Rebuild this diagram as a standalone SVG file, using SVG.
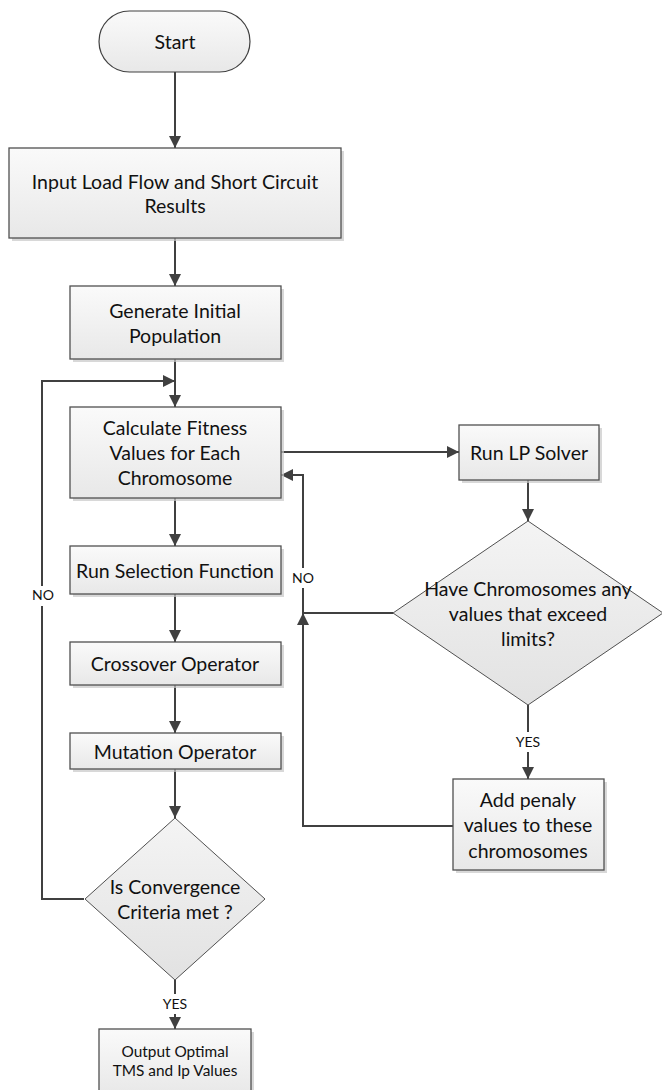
<svg xmlns="http://www.w3.org/2000/svg" width="662" height="1090" viewBox="0 0 662 1090">
<defs>
<linearGradient id="gbox" x1="0" y1="0" x2="0" y2="1">
<stop offset="0" stop-color="#fafafa"/>
<stop offset="1" stop-color="#e8e8e8"/>
</linearGradient>
<linearGradient id="gdia" x1="0" y1="0" x2="0" y2="1">
<stop offset="0" stop-color="#f4f4f4"/>
<stop offset="1" stop-color="#e2e2e2"/>
</linearGradient>
<marker id="arr" markerUnits="userSpaceOnUse" markerWidth="12" markerHeight="12" refX="12" refY="6" orient="auto">
<path d="M0,0 L12,6 L0,12 z" fill="#404040"/>
</marker>
<style>
.box{fill:url(#gbox);stroke:#505050;stroke-width:1.3}
.shadow{fill:#c8c8c8;opacity:0.7}
.dia{fill:url(#gdia);stroke:#505050;stroke-width:1}
.term{fill:url(#gbox);stroke:#404040;stroke-width:1.2}
.ln{fill:none;stroke:#404040;stroke-width:2}
.t{font-family:Lato,"Open Sans",sans-serif;font-size:19.5px;fill:#111111;text-anchor:middle}
.ts{font-family:Lato,"Open Sans",sans-serif;font-size:15.4px;fill:#111111;text-anchor:middle}
.lbl{font-family:Lato,"Open Sans",sans-serif;font-size:14px;fill:#111111;text-anchor:middle}
.bg{fill:#ffffff}
</style>
</defs>
<rect width="662" height="1090" fill="#ffffff"/>

<g id="connectors">
<line class="ln" x1="175" y1="72" x2="175" y2="148" marker-end="url(#arr)"/>
<line class="ln" x1="175" y1="238" x2="175" y2="286" marker-end="url(#arr)"/>
<line class="ln" x1="175" y1="359" x2="175" y2="407" marker-end="url(#arr)"/>
<line class="ln" x1="281" y1="452" x2="459" y2="452" marker-end="url(#arr)"/>
<line class="ln" x1="528" y1="480" x2="528" y2="521" marker-end="url(#arr)"/>
<line class="ln" x1="175" y1="498" x2="175" y2="546" marker-end="url(#arr)"/>
<line class="ln" x1="175" y1="594" x2="175" y2="642" marker-end="url(#arr)"/>
<line class="ln" x1="175" y1="685" x2="175" y2="733" marker-end="url(#arr)"/>
<line class="ln" x1="175" y1="769" x2="175" y2="818" marker-end="url(#arr)"/>
<polyline class="ln" points="84,899 42,899 42,381 175,381" marker-end="url(#arr)"/>
<polyline class="ln" points="393,613 303,613 303,475 281,475" marker-end="url(#arr)"/>
<polyline class="ln" points="453,826 303,826 303,613" marker-end="url(#arr)"/>
<line class="ln" x1="528" y1="705" x2="528" y2="779" marker-end="url(#arr)"/>
<line class="ln" x1="175" y1="980" x2="175" y2="1029" marker-end="url(#arr)"/>
<rect class="bg" x="30" y="586" width="24" height="20"/>
<text class="lbl" x="43" y="600">NO</text>
<rect class="bg" x="291" y="568" width="24" height="20"/>
<text class="lbl" x="303" y="583">NO</text>
<rect class="bg" x="513" y="732" width="30" height="20"/>
<text class="lbl" x="528" y="747">YES</text>
<rect class="bg" x="160" y="994" width="30" height="20"/>
<text class="lbl" x="175" y="1009">YES</text>
</g>

<g id="start">
<rect class="term" x="99" y="11" width="151" height="61" rx="30.5" ry="30.5"/>
<text class="t" x="175" y="48.5">Start</text>
</g>

<g id="input">
<rect class="shadow" x="12" y="151" width="332" height="90"/>
<rect class="box" x="9" y="148" width="332" height="90"/>
<text class="t" x="175" y="189">Input Load Flow and Short Circuit</text>
<text class="t" x="175" y="213">Results</text>
</g>

<g id="generate">
<rect class="shadow" x="73" y="289" width="211" height="73"/>
<rect class="box" x="70" y="286" width="211" height="73"/>
<text class="t" x="175" y="317.5">Generate Initial</text>
<text class="t" x="175" y="343">Population</text>
</g>

<g id="calculate">
<rect class="shadow" x="73" y="410" width="211" height="91"/>
<rect class="box" x="70" y="407" width="211" height="91"/>
<text class="t" x="175" y="435">Calculate Fitness</text>
<text class="t" x="175" y="459.5">Values for Each</text>
<text class="t" x="175" y="485">Chromosome</text>
</g>

<g id="runlp">
<rect class="shadow" x="462" y="428" width="140" height="55"/>
<rect class="box" x="459" y="425" width="140" height="55"/>
<text class="t" x="529" y="459.5">Run LP Solver</text>
</g>

<g id="selection">
<rect class="shadow" x="73" y="549" width="211" height="48"/>
<rect class="box" x="70" y="546" width="211" height="48"/>
<text class="t" x="175" y="577.5">Run Selection Function</text>
</g>

<g id="crossover">
<rect class="shadow" x="73" y="645" width="211" height="43"/>
<rect class="box" x="70" y="642" width="211" height="43"/>
<text class="t" x="175" y="671">Crossover Operator</text>
</g>

<g id="mutation">
<rect class="shadow" x="73" y="736" width="211" height="36"/>
<rect class="box" x="70" y="733" width="211" height="36"/>
<text class="t" x="175" y="758.5">Mutation Operator</text>
</g>

<g id="limits">
<polygon class="dia" points="528,521 663,613 528,705 393,613"/>
<text class="t" x="528" y="596">Have Chromosomes any</text>
<text class="t" x="528" y="620.5">values that exceed</text>
<text class="t" x="528" y="646">limits?</text>
</g>

<g id="penalty">
<rect class="shadow" x="456" y="782" width="151" height="91"/>
<rect class="box" x="453" y="779" width="151" height="91"/>
<text class="t" x="528" y="807">Add penaly</text>
<text class="t" x="528" y="832">values to these</text>
<text class="t" x="528" y="857.5">chromosomes</text>
</g>

<g id="convergence">
<polygon class="dia" points="175,818 265,899 175,980 85,899"/>
<text class="t" x="175" y="893.5">Is Convergence</text>
<text class="t" x="175" y="918.5">Criteria met ?</text>
</g>

<g id="output">
<rect class="shadow" x="102" y="1032" width="152" height="66"/>
<rect class="box" x="99" y="1029" width="152" height="66"/>
<text class="ts" x="175" y="1056.5">Output Optimal</text>
<text class="ts" x="175" y="1075.5">TMS and Ip Values</text>
</g>
</svg>
